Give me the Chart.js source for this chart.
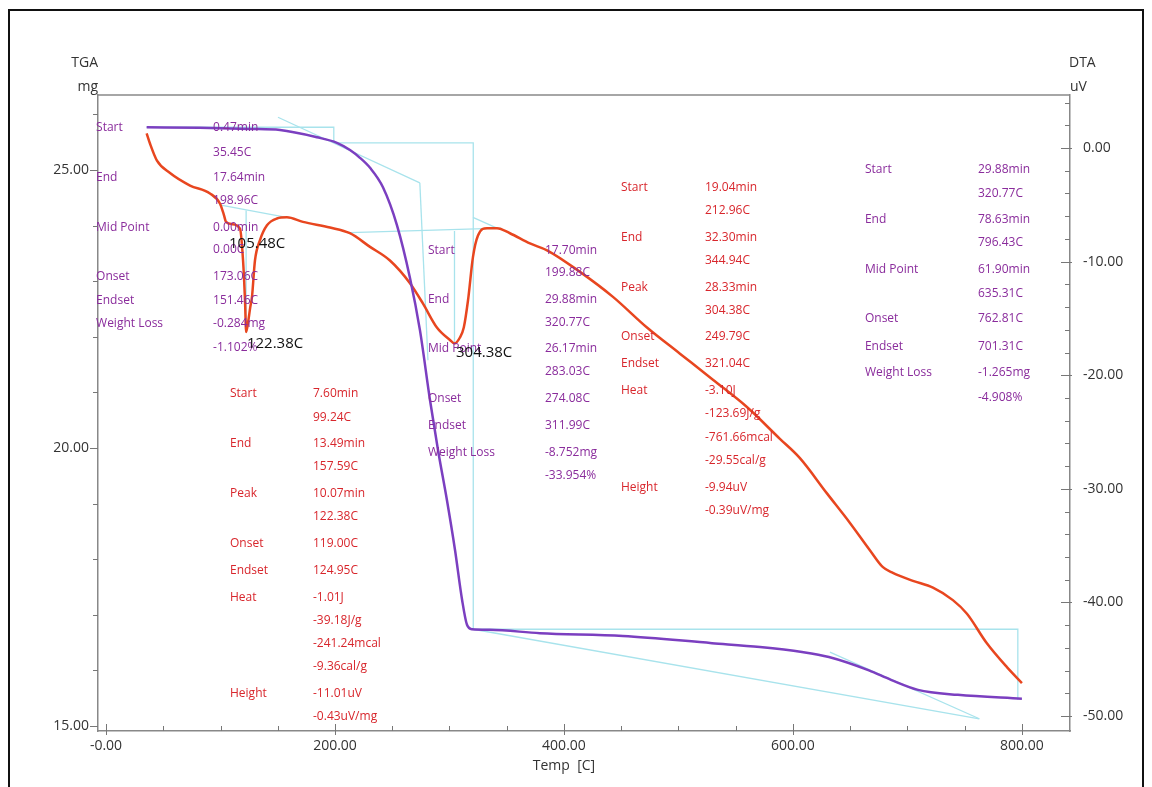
<!DOCTYPE html>
<html>
<head>
<meta charset="utf-8">
<script src="https://cdn.jsdelivr.net/npm/chart.js@4.4.1/dist/chart.umd.min.js"></script>
<style>
  html, body { margin: 0; padding: 0; background: #fff; }
  #wrap { width: 1152px; height: 787px; }
</style>
</head>
<body>
<div id="wrap"><canvas id="chart" width="1152" height="787"></canvas></div>
<script>
// DTA signal (red curve, right axis, uV) against temperature in C
const dtaTemps = [35.5, 38.4, 44.5, 55.9, 73.4, 90.8, 99.6, 103.0, 104.8, 110.0, 117.0,
  119.7, 121.4, 122.4, 124.3, 126.0, 127.5, 130.1, 134.5, 140.6, 149.3,
  158.0, 172.0, 195.6, 213.0, 230.6, 248.0, 265.5, 276.9, 289.0, 300.4,
  304.4, 309.0, 312.5, 316.2, 320.5, 324.9, 332.8, 341.5, 352.8, 370.3,
  385.2, 414.0, 442.8, 472.5, 501.3, 530.1, 559.8, 588.6, 606.1, 629.7,
  649.8, 667.2, 678.6, 687.3, 704.8, 722.3, 739.7, 752.0, 769.4, 786.9, 800.0]
const dtaValues = [1.3, 0.4, -1.1, -2.2, -3.3, -4.0, -4.9, -5.9, -6.5, -6.7, -7.1,
  -9.9, -13.4, -16.2, -15.2, -14.0, -13.1, -9.9, -8.1, -6.8, -6.2,
  -6.1, -6.5, -7.0, -7.5, -8.7, -9.9, -11.9, -13.7, -15.8, -16.9,
  -17.2, -16.7, -15.8, -13.4, -9.6, -7.7, -7.05, -7.05, -7.5, -8.4,
  -9.0, -10.9, -13.1, -15.8, -18.1, -20.4, -22.8, -25.6, -27.3, -30.4,
  -33.0, -35.4, -36.9, -37.4, -38.1, -38.7, -39.8, -41.0, -43.6, -45.7, -47.1]

// TGA mass (purple curve, left axis, mg)
const tgaTemps = [35.5, 82, 125.8, 152, 184.3, 201.7, 213.1, 221.8, 230.6, 241.9,
  254.1, 265.5, 274.2, 283, 290, 297.8, 304.8, 311, 315.3, 319.7,
  335.4, 379, 451.5, 529.3, 571.2, 607.9, 631.4, 666.4, 685.6, 709.2, 744.1, 800]
const tgaValues = [25.77, 25.76, 25.74, 25.72, 25.59, 25.49, 25.36, 25.22, 25.04, 24.69,
  24.01, 23.06, 22.12, 20.86, 19.96, 19.06, 18.17, 17.27, 16.82, 16.74,
  16.73, 16.67, 16.62, 16.49, 16.42, 16.33, 16.24, 16.00, 15.83, 15.65, 15.56, 15.49]

// analysis construction lines, [temp, value] pairs
const tgaGuides = [
  [[35.45, 25.77], [198.96, 25.77], [198.96, 25.49]],
  [[199.88, 25.49], [320.77, 25.49], [320.77, 16.74]],
  [[320.77, 16.74], [796.43, 16.74], [796.43, 15.47]],
  [[150.2, 25.95], [274.1, 24.77]],
  [[274.1, 24.77], [281.2, 21.58]],
  [[320.77, 16.74], [762.8, 15.13]],
  [[632.3, 16.33], [762.8, 15.13]]
]
const dtaGuides = [
  [[99.24, -5.0], [157.59, -6.1]],
  [[122.38, -5.5], [122.38, -16.2]],
  [[212.96, -7.45], [344.94, -7.05]],
  [[304.38, -7.3], [304.38, -17.2]],
  [[320.5, -6.1], [341.5, -7.05]]
]

// axis ticks
const tempMajor = [0, 200, 400, 600, 800]
const tempTickLabels = ['-0.00', '200.00', '400.00', '600.00', '800.00']
const tgaMajor = [15, 20, 25]
const tgaTickLabels = ['15.00', '20.00', '25.00']
const dtaMajor = [0, -10, -20, -30, -40, -50]
const dtaTickLabels = ['0.00', '-10.00', '-20.00', '-30.00', '-40.00', '-50.00']

// result tables printed inside the plot: [label, value, row offset px]
const tgaStep1 = [['Start', '0.47min', 0], ['', '35.45C', 25], ['End', '17.64min', 50], ['', '198.96C', 73],
  ['Mid Point', '0.00min', 100], ['', '0.00C', 122], ['Onset', '173.06C', 149], ['Endset', '151.46C', 173],
  ['Weight Loss', '-0.284mg', 196], ['', '-1.102%', 220]]
const tgaStep2 = [['Start', '17.70min', 0], ['', '199.88C', 22], ['End', '29.88min', 49], ['', '320.77C', 72],
  ['Mid Point', '26.17min', 98], ['', '283.03C', 121], ['Onset', '274.08C', 148], ['Endset', '311.99C', 175],
  ['Weight Loss', '-8.752mg', 202], ['', '-33.954%', 225]]
const tgaStep3 = [['Start', '29.88min', 0], ['', '320.77C', 24], ['End', '78.63min', 50], ['', '796.43C', 73],
  ['Mid Point', '61.90min', 100], ['', '635.31C', 124], ['Onset', '762.81C', 149], ['Endset', '701.31C', 177],
  ['Weight Loss', '-1.265mg', 203], ['', '-4.908%', 228]]
const dtaPeak1 = [['Start', '7.60min', 0], ['', '99.24C', 24], ['End', '13.49min', 50], ['', '157.59C', 73],
  ['Peak', '10.07min', 100], ['', '122.38C', 123], ['Onset', '119.00C', 150], ['Endset', '124.95C', 177],
  ['Heat', '-1.01J', 204], ['', '-39.18J/g', 227], ['', '-241.24mcal', 250], ['', '-9.36cal/g', 273],
  ['Height', '-11.01uV', 300], ['', '-0.43uV/mg', 323]]
const dtaPeak2 = [['Start', '19.04min', 0], ['', '212.96C', 23], ['End', '32.30min', 50], ['', '344.94C', 73],
  ['Peak', '28.33min', 100], ['', '304.38C', 123], ['Onset', '249.79C', 149], ['Endset', '321.04C', 176],
  ['Heat', '-3.10J', 203], ['', '-123.69J/g', 226], ['', '-761.66mcal', 250], ['', '-29.55cal/g', 273],
  ['Height', '-9.94uV', 300], ['', '-0.39uV/mg', 323]]

// peak temperature markers
const peakLabels = [['105.48C', 107.4, -8.4], ['122.38C', 123.1, -17.2], ['304.38C', 305.7, -18.0]]

const PURPLE = '#8a2c9c'
const RED = '#d8262c'
const GUIDE = '#a8e3ec'
const FONT = '"Open Sans", "Noto Sans", sans-serif'

function range(from, to, step) {
  const out = []
  for (let v = from; v <= to + 1e-9; v += step) out.push(Math.round(v * 100) / 100)
  return out
}

function labelFor(value, majors, labels) {
  const i = majors.indexOf(value)
  return i < 0 ? '' : labels[i]
}

function toPoints(xs, ys) {
  return xs.map((x, i) => ({ x: x, y: ys[i] }))
}

const datasets = [
  {
    label: 'TGA', yAxisID: 'yT', data: toPoints(tgaTemps, tgaValues),
    borderColor: '#7b3fc0', borderWidth: 2.5, pointRadius: 0, cubicInterpolationMode: 'monotone'
  },
  {
    label: 'DTA', yAxisID: 'yD', data: toPoints(dtaTemps, dtaValues),
    borderColor: '#e8461f', borderWidth: 2.5, pointRadius: 0, cubicInterpolationMode: 'monotone'
  }
]
tgaGuides.forEach(g => datasets.push({
  yAxisID: 'yT', data: g.map(p => ({ x: p[0], y: p[1] })),
  borderColor: GUIDE, borderWidth: 1.3, pointRadius: 0, tension: 0
}))
dtaGuides.forEach(g => datasets.push({
  yAxisID: 'yD', data: g.map(p => ({ x: p[0], y: p[1] })),
  borderColor: GUIDE, borderWidth: 1.3, pointRadius: 0, tension: 0
}))

function drawTable(ctx, chart, rows, axisId, anchorT, anchorV, valueDx, color) {
  const x0 = chart.scales.x.getPixelForValue(anchorT)
  const y0 = chart.scales[axisId].getPixelForValue(anchorV)
  ctx.fillStyle = color
  rows.forEach(r => {
    if (r[0]) ctx.fillText(r[0], x0, y0 + r[2])
    ctx.fillText(r[1], x0 + valueDx, y0 + r[2])
  })
}

const overlay = {
  id: 'overlay',
  beforeDraw(chart) {
    const ctx = chart.ctx
    ctx.save()
    ctx.fillStyle = '#fff'
    ctx.fillRect(0, 0, chart.width, chart.height)
    ctx.restore()
  },
  afterDatasetsDraw(chart) {
    const ctx = chart.ctx
    ctx.save()
    ctx.font = '12px ' + FONT
    ctx.textBaseline = 'middle'
    ctx.textAlign = 'left'
    drawTable(ctx, chart, tgaStep1, 'yT', -8.7, 25.77, 117, PURPLE)
    drawTable(ctx, chart, tgaStep2, 'yT', 281.2, 23.56, 117, PURPLE)
    drawTable(ctx, chart, tgaStep3, 'yT', 662.9, 25.0, 113, PURPLE)
    drawTable(ctx, chart, dtaPeak1, 'yD', 108.3, -21.6, 83, RED)
    drawTable(ctx, chart, dtaPeak2, 'yD', 449.8, -3.44, 84, RED)

    ctx.font = '15px ' + FONT
    ctx.fillStyle = '#111'
    peakLabels.forEach(p => {
      ctx.fillText(p[0], chart.scales.x.getPixelForValue(p[1]), chart.scales.yD.getPixelForValue(p[2]))
    })
    ctx.restore()
  },
  afterDraw(chart) {
    const ctx = chart.ctx
    const a = chart.chartArea
    const { x, yT, yD } = chart.scales
    ctx.save()

    // outer frame
    ctx.strokeStyle = '#111'
    ctx.lineWidth = 2
    ctx.beginPath()
    ctx.moveTo(9, 800); ctx.lineTo(9, 10); ctx.lineTo(1143, 10); ctx.lineTo(1143, 800)
    ctx.stroke()

    // top edge of the plot box
    ctx.strokeStyle = '#888'
    ctx.lineWidth = 1.5
    ctx.beginPath()
    ctx.moveTo(a.left, a.top); ctx.lineTo(a.right, a.top)
    ctx.stroke()

    // tick marks
    ctx.strokeStyle = '#777'
    ctx.lineWidth = 1
    ctx.beginPath()
    x.ticks.forEach(t => {
      const px = Math.round(x.getPixelForValue(t.value)) + 0.5
      const major = tempMajor.includes(t.value)
      ctx.moveTo(px, a.bottom + (major ? 4 : 0)); ctx.lineTo(px, a.bottom - (major ? 7 : 5))
    })
    yT.ticks.forEach(t => {
      const py = Math.round(yT.getPixelForValue(t.value)) + 0.5
      const major = tgaMajor.includes(t.value)
      ctx.moveTo(a.left, py); ctx.lineTo(a.left - (major ? 8 : 5), py)
    })
    yD.ticks.forEach(t => {
      const py = Math.round(yD.getPixelForValue(t.value)) + 0.5
      const major = dtaMajor.includes(t.value)
      ctx.moveTo(a.right + (major ? 2 : 0), py); ctx.lineTo(a.right - (major ? 9 : 5), py)
    })
    ctx.stroke()

    // axis titles
    ctx.fillStyle = '#333'
    ctx.font = '14px ' + FONT
    ctx.textBaseline = 'middle'
    ctx.textAlign = 'right'
    ctx.fillText('TGA', a.left, 63)
    ctx.fillText('mg', a.left, 87)
    ctx.textAlign = 'left'
    ctx.fillText('DTA', a.right - 1, 63)
    ctx.fillText('uV', a.right, 87)
    ctx.textAlign = 'center'
    ctx.fillText('Temp  [C]', x.getPixelForValue(400), 766)
    ctx.restore()
  }
}

const tickFont = { family: FONT, size: 14 }
const noGrid = { display: false, drawTicks: false }

new Chart(document.getElementById('chart'), {
  type: 'line',
  data: { datasets: datasets },
  plugins: [overlay],
  options: {
    responsive: false,
    animation: false,
    layout: { padding: { top: 95, left: 0, right: 0, bottom: 0 } },
    plugins: { legend: { display: false }, tooltip: { enabled: false } },
    scales: {
      x: {
        type: 'linear', min: -7, max: 842,
        grid: noGrid,
        border: { color: '#888', width: 1.5 },
        ticks: {
          autoSkip: false, maxRotation: 0, padding: 7, color: '#333', font: tickFont,
          callback: v => labelFor(v, tempMajor, tempTickLabels)
        },
        afterBuildTicks: s => { s.ticks = range(0, 800, 50).map(v => ({ value: v })) },
        afterFit: s => { s.height = 56 }
      },
      yT: {
        type: 'linear', position: 'left', min: 14.91, max: 26.35,
        grid: noGrid,
        border: { color: '#888', width: 1.5 },
        ticks: {
          autoSkip: false, padding: 9, color: '#333', font: tickFont,
          callback: v => labelFor(v, tgaMajor, tgaTickLabels)
        },
        afterBuildTicks: s => { s.ticks = range(15, 26, 1).map(v => ({ value: v })) },
        afterFit: s => { s.width = 98 }
      },
      yD: {
        type: 'linear', position: 'right', min: -51.32, max: 4.67,
        grid: noGrid,
        border: { color: '#888', width: 1.5 },
        ticks: {
          autoSkip: false, padding: 13, color: '#333', font: tickFont,
          callback: v => labelFor(v, dtaMajor, dtaTickLabels)
        },
        afterBuildTicks: s => { s.ticks = range(-50, 4, 2).map(v => ({ value: v })) },
        afterFit: s => { s.width = 82 }
      }
    }
  }
})
</script>
</body>
</html>
